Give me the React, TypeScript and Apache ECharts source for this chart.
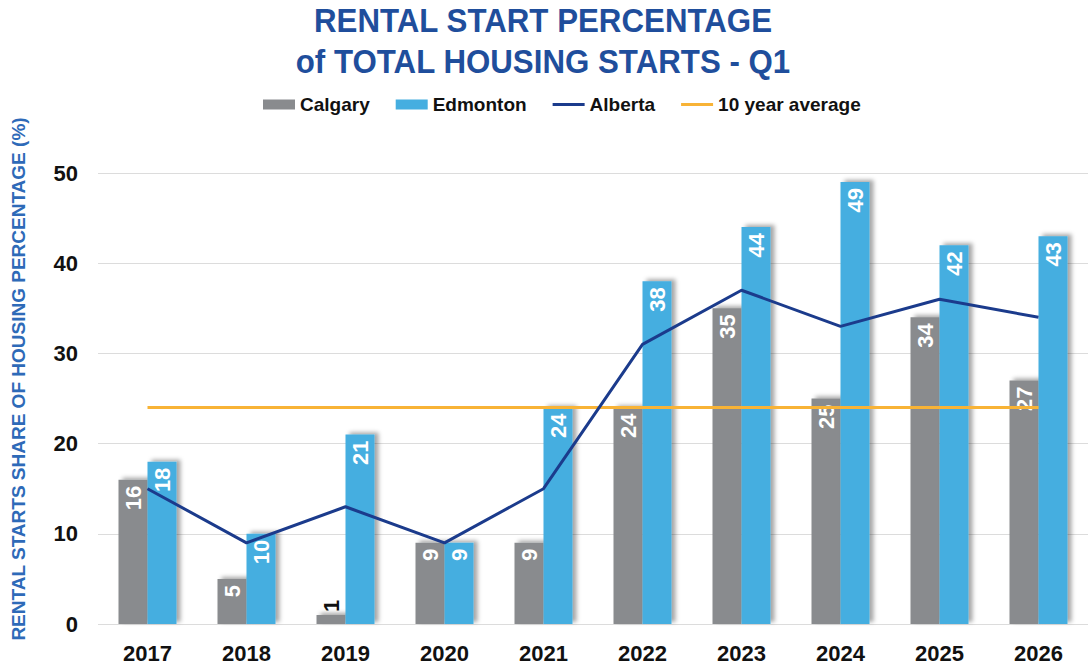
import React, { useEffect, useRef } from "react";
import * as echarts from "echarts";

const categories = ["2017", "2018", "2019", "2020", "2021", "2022", "2023", "2024", "2025", "2026"];
const calgary = [16, 5, 1, 9, 9, 24, 35, 25, 34, 27];
const edmonton = [18, 10, 21, 9, 24, 38, 44, 49, 42, 43];
const alberta = [15, 9, 13, 9, 15, 31, 37, 33, 36, 34];
const tenYearAverage = [24, 24, 24, 24, 24, 24, 24, 24, 24, 24];

const TITLE_LINE_1 = "RENTAL START PERCENTAGE";
const TITLE_LINE_2 = "of TOTAL HOUSING STARTS - Q1";
const Y_TITLE = "RENTAL STARTS SHARE OF HOUSING PERCENTAGE (%)";

const SANS = "'Liberation Sans', Arial, Helvetica, sans-serif";

const GRAY = "#898b8e";
const BLUE = "#45aee0";
const NAVY = "#1b3b8c";
const ORANGE = "#f8b336";
const TITLE_BLUE = "#1f4e9c";
const LINE_ICON = "path://M0,0H32V3H0Z";

export default function App() {
  const ref = useRef<HTMLDivElement>(null);

  useEffect(() => {
    document.body.style.margin = "0";
    if (!ref.current) return;
    const chart = echarts.init(ref.current, null, { renderer: "svg" });

    const barLabel = {
      show: true,
      position: "insideTop",
      rotate: 90,
      align: "right",
      verticalAlign: "middle",
      distance: 6,
      color: "#ffffff",
      fontFamily: SANS,
      fontWeight: "bold",
      fontSize: 22,
    };
    const barShadow = {
      shadowColor: "rgba(0,0,0,0.35)",
      shadowBlur: 4,
      shadowOffsetX: 4,
      shadowOffsetY: -2,
    };

    const calgaryData = calgary.map((v) =>
      v < 3
        ? {
            value: v,
            label: {
              position: "top",
              align: "left",
              verticalAlign: "middle",
              distance: 3,
              color: "#111111",
            },
          }
        : v
    );

    const titleStyle = (text: string) => ({
      text,
      fontFamily: SANS,
      fontWeight: "bold",
      fontSize: 34,
      fill: TITLE_BLUE,
      align: "center",
      verticalAlign: "middle",
      textAlign: "center",
      textVerticalAlign: "middle",
    });

    chart.setOption({
      animation: false,
      backgroundColor: "#ffffff",
      legend: {
        left: 263,
        top: 95,
        padding: 0,
        itemWidth: 32,
        itemHeight: 10,
        itemGap: 26,
        symbolKeepAspect: true,
        textStyle: {
          fontFamily: SANS,
          fontWeight: "bold",
          fontSize: 19,
          color: "#111111",
        },
        data: [
          { name: "Calgary", icon: "rect" },
          { name: "Edmonton", icon: "rect" },
          { name: "Alberta", icon: LINE_ICON },
          { name: "10 year average", icon: LINE_ICON },
        ],
      },
      graphic: [
        {
          type: "text",
          x: 543,
          y: 20,
          scaleX: 0.92,
          style: titleStyle(TITLE_LINE_1),
        },
        {
          type: "text",
          x: 543,
          y: 61,
          scaleX: 0.92,
          style: titleStyle(TITLE_LINE_2),
        },
        {
          type: "text",
          x: 18,
          y: 379,
          rotation: Math.PI / 2,
          style: {
            text: Y_TITLE,
            fontFamily: SANS,
            fontWeight: "bold",
            fontSize: 19,
            fill: "#2e6ab8",
            align: "center",
            verticalAlign: "middle",
            textAlign: "center",
            textVerticalAlign: "middle",
          },
        },
      ],
      grid: {
        left: 98,
        width: 993,
        top: 173,
        height: 451,
        containLabel: false,
      },
      xAxis: {
        type: "category",
        data: categories,
        axisLine: { show: false },
        axisTick: { show: false },
        axisLabel: {
          margin: 18,
          color: "#111111",
          fontFamily: SANS,
          fontWeight: "bold",
          fontSize: 22,
        },
      },
      yAxis: {
        type: "value",
        min: 0,
        max: 50,
        interval: 10,
        axisLine: { show: false },
        axisTick: { show: false },
        splitLine: { lineStyle: { color: "#dcdcdc", width: 1 } },
        axisLabel: {
          margin: 20,
          color: "#111111",
          fontFamily: SANS,
          fontWeight: "bold",
          fontSize: 22,
        },
      },
      series: [
        {
          name: "Calgary",
          type: "bar",
          data: calgaryData,
          barWidth: 29,
          barGap: "0%",
          itemStyle: { color: GRAY, ...barShadow },
          label: barLabel,
          z: 2,
        },
        {
          name: "Edmonton",
          type: "bar",
          data: edmonton,
          barWidth: 29,
          barGap: "0%",
          itemStyle: { color: BLUE, ...barShadow },
          label: barLabel,
          z: 2,
        },
        {
          name: "Alberta",
          type: "line",
          data: alberta,
          symbol: "none",
          lineStyle: { color: NAVY, width: 3 },
          itemStyle: { color: NAVY },
          z: 4,
        },
        {
          name: "10 year average",
          type: "line",
          data: tenYearAverage,
          symbol: "none",
          lineStyle: { color: ORANGE, width: 3 },
          itemStyle: { color: ORANGE },
          z: 3,
        },
      ],
    });

    return () => chart.dispose();
  }, []);

  return <div ref={ref} style={{ width: 1088, height: 671 }} />;
}
